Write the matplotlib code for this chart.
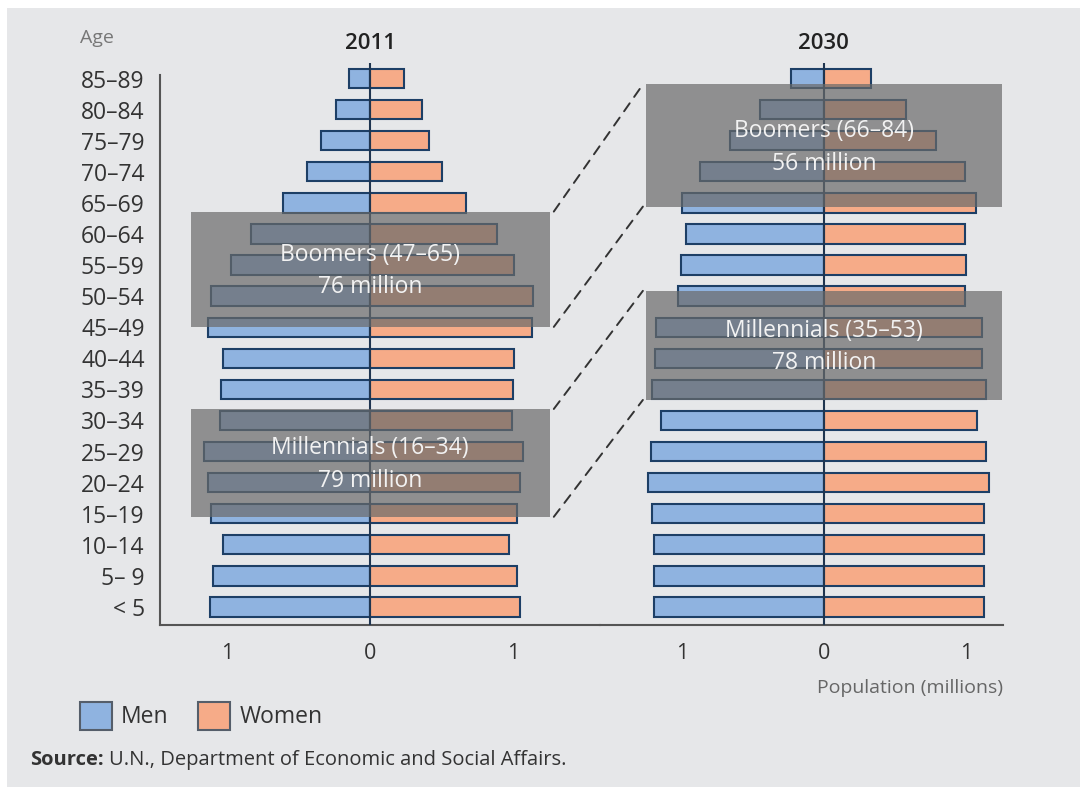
import matplotlib
matplotlib.use("Agg")
import matplotlib.pyplot as plt
from matplotlib.patches import Rectangle, ConnectionPatch

plt.rcParams['font.family'] = ['Open Sans', 'DejaVu Sans']

age_groups = ["< 5", "5– 9", "10–14", "15–19", "20–24", "25–29", "30–34", "35–39",
              "40–44", "45–49", "50–54", "55–59", "60–64", "65–69", "70–74", "75–79",
              "80–84", "85–89"]

men_2011 = [1.12, 1.10, 1.03, 1.11, 1.13, 1.16, 1.05, 1.04, 1.03, 1.13, 1.11, 0.97,
            0.83, 0.61, 0.44, 0.34, 0.24, 0.15]
women_2011 = [1.05, 1.03, 0.97, 1.03, 1.05, 1.07, 0.99, 1.00, 1.01, 1.13, 1.14, 1.01,
              0.89, 0.67, 0.50, 0.41, 0.36, 0.24]
men_2030 = [1.20, 1.20, 1.20, 1.21, 1.24, 1.22, 1.15, 1.21, 1.19, 1.18, 1.03, 1.01,
            0.97, 1.00, 0.87, 0.66, 0.45, 0.23]
women_2030 = [1.13, 1.13, 1.13, 1.13, 1.16, 1.14, 1.08, 1.14, 1.11, 1.11, 0.99, 1.00,
              0.99, 1.07, 0.99, 0.79, 0.58, 0.33]

years = ["2011", "2030"]
# highlighted cohorts: (label, value, y bottom, y top) in age-row units
boxes_2011 = [("Boomers (47–65)", "76 million", 9.01, 12.72),
              ("Millennials (16–34)", "79 million", 2.90, 6.37)]
boxes_2030 = [("Boomers (66–84)", "56 million", 12.88, 16.81),
              ("Millennials (35–53)", "78 million", 6.66, 10.17)]
box_half_width = 1.255

MEN_C = '#8fb3e0'
WOMEN_C = '#f6ab88'
EDGE_C = '#1d3f66'
BOX_C = '#6a6a6a'
BG_C = '#e6e7e9'

W, H = 1083, 787
fig = plt.figure(figsize=(W / 100, H / 100), dpi=100, facecolor='white')
fig.patches.append(Rectangle((7 / W, 0), 1073 / W, 779 / H, transform=fig.transFigure,
                             facecolor=BG_C, edgecolor='none', zorder=-5))

ax1 = fig.add_axes([160 / W, 1 - 625 / H, 440 / W, 562 / H])
ax2 = fig.add_axes([600 / W, 1 - 625 / H, 403 / W, 562 / H])

y = list(range(len(age_groups)))
bar_h = 0.62

def draw(ax, men, women, xlim, boxes, title):
    ax.set_facecolor('none')
    ax.barh(y, [-m for m in men], height=bar_h, color=MEN_C, edgecolor=EDGE_C,
            linewidth=1.5, zorder=2)
    ax.barh(y, women, height=bar_h, color=WOMEN_C, edgecolor=EDGE_C,
            linewidth=1.5, zorder=2)
    ax.axvline(0, color='#1f3550', lw=1.5, zorder=3)
    ax.set_xlim(*xlim)
    ax.set_ylim(-0.58, 17.5)
    ax.set_xticks([-1, 0, 1])
    ax.set_xticklabels(["1", "0", "1"])
    ax.tick_params(axis='x', length=0, pad=13, labelsize=15.5, labelcolor='#333333')
    for s in ['top', 'right', 'left']:
        ax.spines[s].set_visible(False)
    ax.spines['bottom'].set_color('#555555')
    ax.spines['bottom'].set_linewidth(1.5)
    for lab1, lab2, y0, y1 in boxes:
        ax.add_patch(Rectangle((-box_half_width, y0), 2 * box_half_width, y1 - y0,
                               facecolor=BOX_C, alpha=0.7, edgecolor='none', zorder=4))
        ym = (y0 + y1) / 2
        ax.text(0, ym + 0.47, lab1, ha='center', va='center', fontsize=16.5,
                color='#f2f2f2', zorder=5)
        ax.text(0, ym - 0.58, lab2, ha='center', va='center', fontsize=16.5,
                color='#f2f2f2', zorder=5)
    ax.text(0, 1.035, title, transform=ax.get_xaxis_transform(), ha='center',
            va='center', fontsize=16, fontweight='semibold', color='#222222')

draw(ax1, men_2011, women_2011, (-1.4685, 1.608), boxes_2011, years[0])
draw(ax2, men_2030, women_2030, (-1.577, 1.261), boxes_2030, years[1])

ax1.spines['left'].set_visible(True)
ax1.spines['left'].set_color('#555555')
ax1.spines['left'].set_linewidth(1.5)
ax1.spines['left'].set_bounds(-0.58, 17.13)
ax1.set_yticks(y)
ax1.set_yticklabels(age_groups)
ax1.tick_params(axis='y', length=0, pad=11, labelsize=16.5, labelcolor='#333333')
ax2.set_yticks([])

# dashed connectors
for (_, _, a0, a1), (_, _, b0, b1) in zip(boxes_2011, boxes_2030):
    for ya, yb in [(a1, b1), (a0, b0)]:
        con = ConnectionPatch(xyA=(box_half_width + 0.03, ya), coordsA=ax1.transData,
                              xyB=(-box_half_width - 0.02, yb), coordsB=ax2.transData,
                              linestyle=(0, (5, 4)), color='#333333', lw=1.4, zorder=6)
        fig.add_artist(con)

fig.text(97 / W, 1 - 38 / H, "Age", ha='center', va='center', fontsize=14,
         color='#777777')
fig.text(1003 / W, 1 - 688 / H, "Population (millions)", ha='right', va='center',
         fontsize=14, color='#666666')

# legend
fig.patches.append(Rectangle((80 / W, 1 - 730 / H), 32 / W, 28 / H, transform=fig.transFigure,
                             facecolor=MEN_C, edgecolor='#555e6a', lw=1.5))
fig.text(121 / W, 1 - 717 / H, "Men", ha='left', va='center', fontsize=16.5, color='#333333')
fig.patches.append(Rectangle((198 / W, 1 - 730 / H), 32 / W, 28 / H, transform=fig.transFigure,
                             facecolor=WOMEN_C, edgecolor='#555e6a', lw=1.5))
fig.text(240 / W, 1 - 717 / H, "Women", ha='left', va='center', fontsize=16.5, color='#333333')

t = fig.text(30 / W, 1 - 760 / H, "Source:", ha='left', va='center', fontsize=14.5,
             fontweight='bold', color='#333333')
fig.canvas.draw()
bb = t.get_window_extent()
fig.text((bb.x1 + 5) / W, 1 - 760 / H, "U.N., Department of Economic and Social Affairs.",
         ha='left', va='center', fontsize=14.5, color='#333333')

fig.savefig("out.png", dpi=100, facecolor='white')
